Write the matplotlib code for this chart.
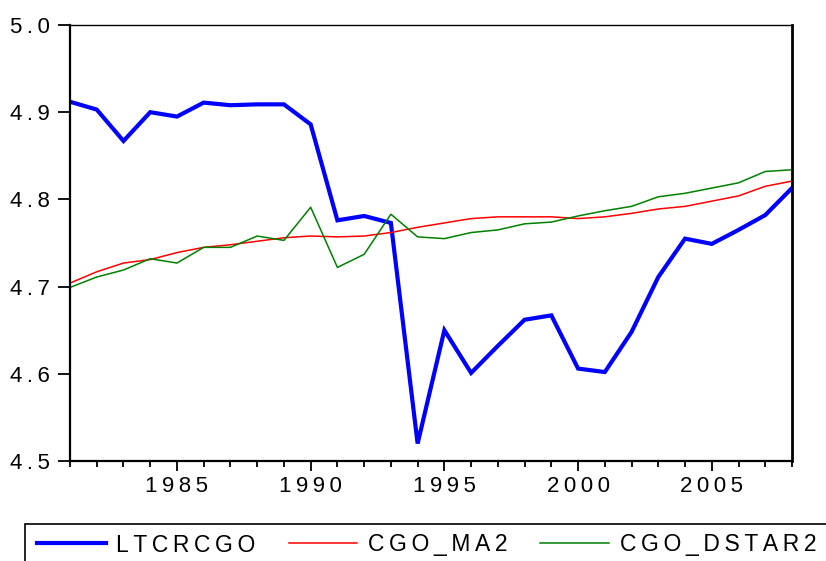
import numpy as np
import matplotlib
matplotlib.use("Agg")
import matplotlib.pyplot as plt
from matplotlib.lines import Line2D
from matplotlib.patches import Rectangle
from matplotlib.ticker import MultipleLocator

plt.rcParams["font.family"] = ["Liberation Sans", "DejaVu Sans"]

years = list(range(1981, 2009))

ltcrcgo = [4.912, 4.903, 4.867, 4.900, 4.895, 4.911, 4.908, 4.909, 4.909, 4.886,
           4.776, 4.781, 4.773, 4.520, 4.650, 4.601, 4.632, 4.662, 4.667, 4.606,
           4.602, 4.648, 4.711, 4.755, 4.749, 4.765, 4.782, 4.813]

cgo_ma2 = [4.704, 4.717, 4.727, 4.731, 4.739, 4.745, 4.748, 4.752, 4.756, 4.758,
           4.757, 4.758, 4.762, 4.768, 4.773, 4.778, 4.780, 4.780, 4.780, 4.778,
           4.780, 4.784, 4.789, 4.792, 4.798, 4.804, 4.815, 4.821]

cgo_dstar2 = [4.699, 4.711, 4.719, 4.732, 4.727, 4.745, 4.745, 4.758, 4.753, 4.791,
              4.722, 4.737, 4.783, 4.757, 4.755, 4.762, 4.765, 4.772, 4.774, 4.781,
              4.787, 4.792, 4.803, 4.807, 4.813, 4.819, 4.832, 4.834]

series_names = ["LTCRCGO", "CGO_MA2", "CGO_DSTAR2"]
x_ticks = [1985, 1990, 1995, 2000, 2005]
y_ticks = [4.5, 4.6, 4.7, 4.8, 4.9, 5.0]


def spaced(s):
    # the original chart uses wide letter spacing -> thin spaces between chars
    return "\u2009".join(s)


fig = plt.figure(figsize=(8.26, 5.61), dpi=100)
ax = fig.add_axes([70 / 826, 1 - 461 / 561, (792 - 70) / 826, (461 - 25) / 561])

ax.plot(years, ltcrcgo, color="#0000ff", lw=3.0, solid_joinstyle="miter")
ax.plot(years, cgo_ma2, color="#ff0000", lw=1.1)
ax.plot(years, cgo_dstar2, color="#008000", lw=1.1)

ax.set_xlim(1981, 2008)
ax.set_ylim(4.5, 5.0)

ax.set_xticks(x_ticks)
ax.set_xticklabels([spaced(str(t)) for t in x_ticks], fontsize=16)
ax.xaxis.set_minor_locator(MultipleLocator(1))
ax.set_yticks(y_ticks)
ax.set_yticklabels([spaced(f"{t:.1f}") for t in y_ticks], fontsize=16)

ax.tick_params(axis="x", which="major", direction="out", length=7, width=1.3, pad=4)
ax.tick_params(axis="x", which="minor", direction="out", length=4.5, width=1.3)
ax.tick_params(axis="y", which="major", direction="out", length=8.5, width=1.3, pad=6)
ax.tick_params(top=False, right=False)

ax.spines["left"].set_linewidth(1.6)
ax.spines["bottom"].set_linewidth(1.6)
ax.spines["right"].set_linewidth(2.0)
ax.spines["top"].set_linewidth(1.0)

# legend box runs off the right and bottom edge in the original
fig.patches.append(Rectangle((25 / 826, -0.05), 1.0, 0.05 + 1 - 524 / 561,
                             transform=fig.transFigure, fill=False,
                             edgecolor="black", lw=1.2))

handles = [Line2D([], [], color="#0000ff", lw=3.0),
           Line2D([], [], color="#ff0000", lw=1.1),
           Line2D([], [], color="#008000", lw=1.1)]
fig.legend(handles, [spaced(n) for n in series_names], loc="center left",
           bbox_to_anchor=(37 / 826, 1 - 545 / 561), ncol=3, frameon=False,
           fontsize=16.5, handlelength=3.0, handletextpad=0.45,
           columnspacing=1.45, borderaxespad=0, borderpad=0)

fig.savefig("out.png", dpi=100)
